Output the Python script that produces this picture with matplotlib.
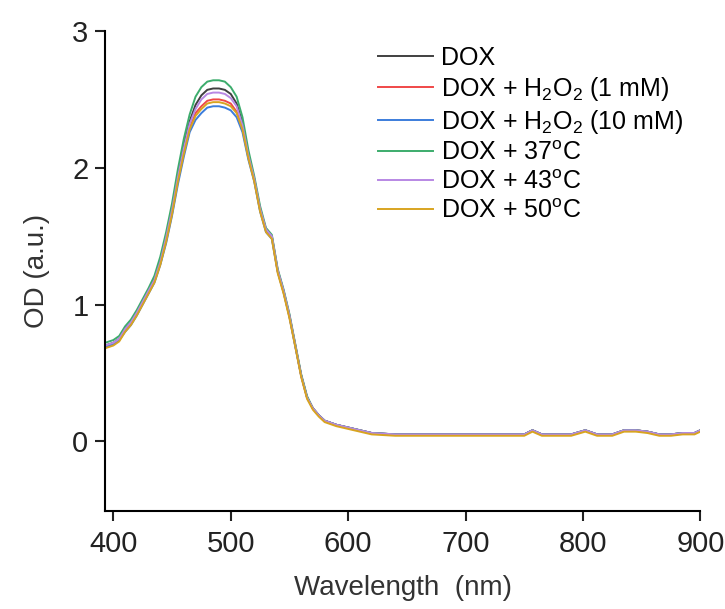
import matplotlib
matplotlib.use("Agg")
import matplotlib.pyplot as plt

plt.rcParams['font.family'] = ['Liberation Sans', 'DejaVu Sans']
plt.rcParams['mathtext.fontset'] = 'custom'
plt.rcParams['mathtext.rm'] = 'Liberation Sans'
plt.rcParams['mathtext.it'] = 'Liberation Sans'

# wavelength (nm)
wl = [393, 400, 405, 410, 415, 420, 425, 430, 435, 440,
      445, 450, 455, 460, 465, 470, 475, 480, 485, 490,
      495, 500, 505, 510, 515, 520, 525, 530, 535, 540,
      545, 550, 555, 560, 565, 570, 575, 580, 590, 600,
      610, 620, 640, 660, 680, 700, 720, 740, 750, 757,
      765, 775, 790, 802, 812, 825, 835, 845, 855, 865,
      875, 885, 895, 900]

dox = [0.70, 0.72, 0.75, 0.82, 0.87, 0.94, 1.02, 1.10, 1.19, 1.32,
       1.50, 1.70, 1.95, 2.16, 2.34, 2.46, 2.53, 2.57, 2.58, 2.58,
       2.57, 2.54, 2.47, 2.33, 2.10, 1.92, 1.70, 1.55, 1.50, 1.25,
       1.10, 0.92, 0.70, 0.48, 0.32, 0.24, 0.19, 0.15, 0.12, 0.10,
       0.08, 0.06, 0.05, 0.05, 0.05, 0.05, 0.05, 0.05, 0.05, 0.08,
       0.05, 0.05, 0.05, 0.08, 0.05, 0.05, 0.08, 0.08, 0.07, 0.05,
       0.05, 0.06, 0.06, 0.08]

h2o2_1 = [0.69, 0.71, 0.74, 0.81, 0.86, 0.93, 1.01, 1.09, 1.17, 1.30,
          1.47, 1.67, 1.91, 2.11, 2.29, 2.40, 2.45, 2.49, 2.50, 2.50,
          2.49, 2.47, 2.41, 2.29, 2.08, 1.91, 1.69, 1.54, 1.49, 1.24,
          1.09, 0.91, 0.70, 0.48, 0.32, 0.24, 0.19, 0.15, 0.12, 0.10,
          0.08, 0.06, 0.05, 0.05, 0.05, 0.05, 0.05, 0.05, 0.05, 0.08,
          0.05, 0.05, 0.05, 0.08, 0.05, 0.05, 0.08, 0.08, 0.07, 0.05,
          0.05, 0.06, 0.06, 0.08]

h2o2_10 = [0.69, 0.71, 0.74, 0.80, 0.85, 0.92, 1.00, 1.08, 1.16, 1.29,
           1.45, 1.65, 1.88, 2.08, 2.26, 2.35, 2.40, 2.44, 2.45, 2.45,
           2.44, 2.42, 2.37, 2.26, 2.06, 1.90, 1.68, 1.53, 1.48, 1.24,
           1.09, 0.91, 0.69, 0.48, 0.32, 0.24, 0.19, 0.15, 0.12, 0.10,
           0.08, 0.06, 0.05, 0.05, 0.05, 0.05, 0.05, 0.05, 0.05, 0.08,
           0.05, 0.05, 0.05, 0.08, 0.05, 0.05, 0.08, 0.08, 0.07, 0.05,
           0.05, 0.06, 0.06, 0.08]

t37 = [0.72, 0.74, 0.77, 0.84, 0.89, 0.96, 1.04, 1.12, 1.21, 1.35,
       1.53, 1.74, 1.99, 2.21, 2.39, 2.52, 2.59, 2.63, 2.64, 2.64,
       2.63, 2.59, 2.52, 2.37, 2.13, 1.94, 1.72, 1.56, 1.51, 1.26,
       1.11, 0.93, 0.71, 0.49, 0.33, 0.24, 0.19, 0.15, 0.12, 0.10,
       0.08, 0.06, 0.05, 0.05, 0.05, 0.05, 0.05, 0.05, 0.05, 0.08,
       0.05, 0.05, 0.05, 0.08, 0.05, 0.05, 0.08, 0.08, 0.07, 0.05,
       0.05, 0.06, 0.06, 0.08]

t43 = [0.70, 0.72, 0.75, 0.82, 0.87, 0.94, 1.02, 1.10, 1.18, 1.31,
       1.49, 1.69, 1.93, 2.14, 2.32, 2.43, 2.50, 2.54, 2.55, 2.55,
       2.54, 2.51, 2.45, 2.31, 2.09, 1.92, 1.70, 1.55, 1.50, 1.25,
       1.10, 0.92, 0.70, 0.48, 0.32, 0.24, 0.19, 0.15, 0.12, 0.10,
       0.08, 0.06, 0.05, 0.05, 0.05, 0.05, 0.05, 0.05, 0.05, 0.08,
       0.05, 0.05, 0.05, 0.08, 0.05, 0.05, 0.08, 0.08, 0.07, 0.05,
       0.05, 0.06, 0.06, 0.08]

t50 = [0.68, 0.70, 0.73, 0.80, 0.85, 0.92, 1.00, 1.08, 1.16, 1.29,
       1.46, 1.66, 1.90, 2.10, 2.28, 2.38, 2.43, 2.47, 2.48, 2.48,
       2.47, 2.45, 2.40, 2.28, 2.07, 1.90, 1.68, 1.53, 1.48, 1.23,
       1.08, 0.90, 0.69, 0.47, 0.31, 0.23, 0.18, 0.14, 0.11, 0.09,
       0.07, 0.05, 0.04, 0.04, 0.04, 0.04, 0.04, 0.04, 0.04, 0.07,
       0.04, 0.04, 0.04, 0.07, 0.04, 0.04, 0.07, 0.07, 0.06, 0.04,
       0.04, 0.05, 0.05, 0.07]

series = [dox, h2o2_1, h2o2_10, t37, t43, t50]
labels = ['DOX',
          r'DOX + H$_2$O$_2$ (1 mM)',
          r'DOX + H$_2$O$_2$ (10 mM)',
          r'DOX + 37$^{\mathrm{o}}$C',
          r'DOX + 43$^{\mathrm{o}}$C',
          r'DOX + 50$^{\mathrm{o}}$C']
colors = ['#404040', '#f04848', '#3c7ddc', '#3cac6c', '#b888e4', '#d8a420']

fig = plt.figure(figsize=(7.25, 6.09), dpi=100)
ax = fig.add_axes([0.145, 0.161, 0.821, 0.788])

for y, lab, c in zip(series, labels, colors):
    ax.plot(wl, y, color=c, lw=1.4, label=lab)

ax.set_xlim(393, 900)
ax.set_ylim(-0.51, 3)
ax.set_xticks([400, 500, 600, 700, 800, 900])
ax.set_yticks([0, 1, 2, 3])
ax.spines['top'].set_visible(False)
ax.spines['right'].set_visible(False)
for s in ['left', 'bottom']:
    ax.spines[s].set_linewidth(1.5)
ax.tick_params(labelsize=21, length=7, width=1.5, colors='#222222')
ax.tick_params(axis='x', pad=7)
ax.tick_params(axis='y', pad=5)
ax.set_xlabel('Wavelength  (nm)', fontsize=20, color='#333333', labelpad=12)
ax.set_ylabel('OD (a.u.)', fontsize=20, color='#333333', labelpad=16)

ax.legend(loc='upper right', bbox_to_anchor=(1.0, 1.005), frameon=False,
          fontsize=18, handlelength=2.2, handletextpad=0.3, labelspacing=0.2,
          borderpad=0.2)

fig.savefig('out.png', dpi=100)
